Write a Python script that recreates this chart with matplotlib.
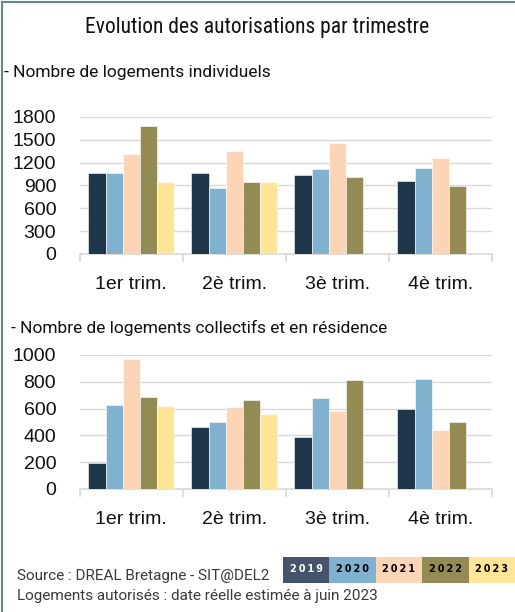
import matplotlib.pyplot as plt
import numpy as np
from matplotlib import font_manager
from matplotlib.patches import Rectangle
from matplotlib.lines import Line2D

# data
quarters = ["1er trim.", "2è trim.", "3è trim.", "4è trim."]
years = ["2019", "2020", "2021", "2022", "2023"]
colors = ["#1d3649", "#80b1cf", "#fbd5b5", "#948a54", "#ffe597"]
legend_colors = ["#44546a", "#80b1cf", "#fbd5b5", "#948a54", "#ffe597"]

individuels = {
    "2019": [1065, 1065, 1037, 963],
    "2020": [1065, 867, 1112, 1133],
    "2021": [1309, 1357, 1458, 1261],
    "2022": [1681, 941, 1016, 898],
    "2023": [941, 941, np.nan, np.nan],
}
collectifs = {
    "2019": [194, 465, 388, 600],
    "2020": [629, 500, 679, 821],
    "2021": [973, 615, 580, 440],
    "2022": [684, 664, 811, 498],
    "2023": [622, 557, np.nan, np.nan],
}

# a condensed face for the title if one exists, else Roboto
names = {f.name for f in font_manager.fontManager.ttflist}
narrow = ["Roboto", "DejaVu Sans"]
for n in ["Roboto Condensed", "Liberation Sans Narrow", "DejaVu Sans Condensed"]:
    if n in names:
        narrow = [n, "DejaVu Sans"]
        break
text_font = ["Roboto", "DejaVu Sans"]
tick_font = ["Liberation Sans", "DejaVu Sans"]

fig = plt.figure(figsize=(5.15, 6.12), dpi=100)
fig.patch.set_facecolor("white")


def draw_panel(ax, data, ymax, step):
    x = np.arange(len(quarters))
    w = 0.167
    for i, y in enumerate(years):
        ax.bar(x + (i - 2) * w, data[y], width=w, color=colors[i],
               edgecolor="white", linewidth=0.4, zorder=3)
    ax.set_ylim(0, ymax)
    ax.set_xlim(-0.5, 3.5)
    ax.set_yticks(np.arange(0, ymax + 1, step))
    ax.yaxis.grid(True, color="#d9d9d9", linewidth=1, zorder=0)
    ax.set_axisbelow(True)
    for s in ["top", "right", "left"]:
        ax.spines[s].set_visible(False)
    ax.spines["bottom"].set_color("#d9d9d9")
    ax.spines["bottom"].set_linewidth(1.2)
    ax.tick_params(axis="y", length=0, pad=17, labelsize=14, labelcolor="#111111")
    ax.set_xticks(x)
    ax.set_xticklabels(quarters)
    ax.tick_params(axis="x", length=0, pad=16, labelsize=14, labelcolor="#111111")
    for t in ax.get_xticklabels() + ax.get_yticklabels():
        t.set_family(tick_font)
    # separators between categories
    ax.set_xticks(np.arange(-0.5, 4.0, 1.0), minor=True)
    ax.tick_params(axis="x", which="minor", length=6, width=1.2, color="#d9d9d9")


ax1 = fig.add_axes([0.155, 0.585, 0.80, 0.224])
draw_panel(ax1, individuels, 1800, 300)

ax2 = fig.add_axes([0.155, 0.201, 0.80, 0.219])
draw_panel(ax2, collectifs, 1000, 200)

fig.text(0.5, 1 - 27 / 612, "Evolution des autorisations par trimestre",
         ha="center", va="center", fontsize=15.5, family=narrow, color="#111111")
fig.text(4 / 515, 1 - 73 / 612, "- Nombre de logements individuels",
         ha="left", va="center", fontsize=12.5, family=text_font, color="#111111")
fig.text(11 / 515, 1 - 328 / 612, "- Nombre de logements collectifs et en résidence",
         ha="left", va="center", fontsize=12.5, family=text_font, color="#111111")

fig.text(17 / 515, 1 - 576 / 612, "Source : DREAL Bretagne - SIT@DEL2",
         ha="left", va="center", fontsize=11, family=text_font, color="#3a3a3a")
fig.text(17 / 515, 1 - 596 / 612, "Logements autorisés : date réelle estimée à juin 2023",
         ha="left", va="center", fontsize=11, family=text_font, color="#3a3a3a")

# legend boxes
box_left = 283
box_w = 46.4
for i, y in enumerate(years):
    x0 = box_left + i * box_w
    fig.patches.append(Rectangle((x0 / 515, 1 - 583 / 612), box_w / 515, 26 / 612,
                                 transform=fig.transFigure, facecolor=legend_colors[i],
                                 edgecolor="none"))
    fig.text((x0 + box_w / 2) / 515, 1 - 569 / 612, "\u2009".join(y),
             ha="center", va="center", fontsize=7, fontweight="bold",
             color="white" if i == 0 else "black", family="DejaVu Sans")

# frame lines
border = "#5f8a8b"
fig.add_artist(Line2D([2 / 515, 2 / 515], [0, 1 - 2 / 612], transform=fig.transFigure,
                      color=border, linewidth=1.5))
fig.add_artist(Line2D([2 / 515, 1], [1 - 2 / 612, 1 - 2 / 612], transform=fig.transFigure,
                      color=border, linewidth=1.5))

fig.savefig("out.png", dpi=100)
